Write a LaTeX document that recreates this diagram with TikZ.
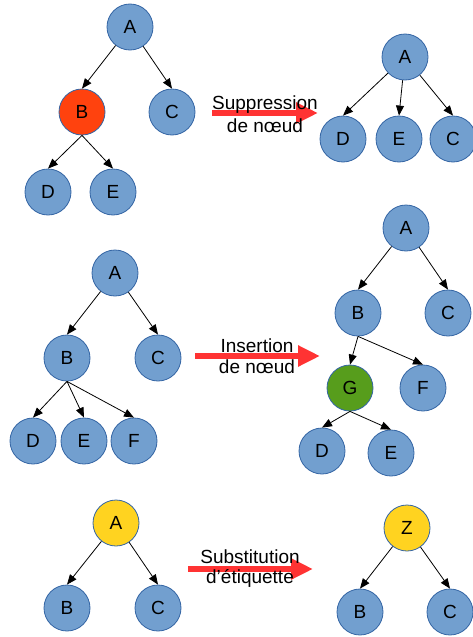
\documentclass[tikz,border=0pt]{standalone}
\usepackage{fontspec}
\setmainfont{Liberation Sans}
\usetikzlibrary{arrows.meta}
\definecolor{nodeblue}{HTML}{729FCF}
\definecolor{nodeborder}{HTML}{3465A4}
\definecolor{nodered}{HTML}{FF420E}
\definecolor{nodegreen}{HTML}{579D1C}
\definecolor{nodeyellow}{HTML}{FFD320}
\definecolor{bigred}{HTML}{FF3333}
\tikzset{
  tnode/.style={circle, draw=nodeborder, line width=0.8pt, fill=nodeblue, minimum size=46pt, inner sep=0pt, font=\fontsize{19}{22}\selectfont},
  rednode/.style={tnode, fill=nodered},
  greennode/.style={tnode, fill=nodegreen},
  yellownode/.style={tnode, fill=nodeyellow},
  edge/.style={draw=black, line width=0.8pt, -{Triangle[length=10pt,width=8pt]}},
  bigarrow/.style={draw=bigred, line width=6pt, -{Triangle[length=22pt,width=20pt]}},
  lbl/.style={anchor=base, inner sep=0pt, font=\fontsize{19}{22}\selectfont}
}
\begin{document}
\begin{tikzpicture}[x=1pt,y=-1pt]
\useasboundingbox (0,0) rectangle (473,637);
% ---------- Section 1 ----------
\node[tnode] (a1) at (130,27) {A};
\node[rednode] (b1) at (82,112) {B};
\node[tnode] (c1) at (172,112) {C};
\node[tnode] (d1) at (48,192) {D};
\node[tnode] (e1) at (113,192) {E};
\draw[edge] (a1) -- (b1.north);
\draw[edge] (a1) -- (c1.north);
\draw[edge] (b1.south) -- (d1.north);
\draw[edge] (b1.south) -- (e1.north);

\node[tnode] (a1r) at (405,57) {A};
\node[tnode] (d1r) at (343,139) {D};
\node[tnode] (e1r) at (399,139) {E};
\node[tnode] (c1r) at (453,139) {C};
\draw[edge] (a1r) -- (d1r.north);
\draw[edge] (a1r) -- (e1r.north);
\draw[edge] (a1r) -- (c1r.north);

\coordinate (s1) at (212,113);
\coordinate (t1) at (318,113);
\draw[bigarrow] (s1) -- (t1);
\node[lbl] (l1a) at (265,109) {Suppression};
\node[lbl] (l1b) at (265,132) {de nœud};

% ---------- Section 2 ----------
\node[tnode] (a2) at (115,273) {A};
\node[tnode] (b2) at (67,358) {B};
\node[tnode] (c2) at (158,358) {C};
\node[tnode] (d2) at (33,441) {D};
\node[tnode] (e2) at (84,441) {E};
\node[tnode] (f2) at (134,441) {F};
\draw[edge] (a2) -- (b2.north);
\draw[edge] (a2) -- (c2.north);
\draw[edge] (b2.south) -- (d2.north);
\draw[edge] (b2.south) -- (e2.north);
\draw[edge] (b2.south) -- (f2.north);

\node[tnode] (a2r) at (406,228) {A};
\node[tnode] (b2r) at (358,313) {B};
\node[tnode] (c2r) at (448,313) {C};
\node[greennode] (g2r) at (350,388) {G};
\node[tnode] (f2r) at (423,388) {F};
\node[tnode] (d2r) at (322,451) {D};
\node[tnode] (e2r) at (391,453) {E};
\draw[edge] (a2r) -- (b2r.north);
\draw[edge] (a2r) -- (c2r.north);
\draw[edge] (b2r.south) -- (g2r.north);
\draw[edge] (b2r.south) -- (f2r.north);
\draw[edge] (g2r.south) -- (d2r.north);
\draw[edge] (g2r.south) -- (e2r.north);

\coordinate (s2) at (195,356);
\coordinate (t2) at (320,356);
\draw[bigarrow] (s2) -- (t2);
\node[lbl] (l2a) at (257,352) {Insertion};
\node[lbl] (l2b) at (257,373) {de nœud};

% ---------- Section 3 ----------
\node[yellownode] (a3) at (116,523) {A};
\node[tnode] (b3) at (67,608) {B};
\node[tnode] (c3) at (158,608) {C};
\draw[edge] (a3) -- (b3.north);
\draw[edge] (a3) -- (c3.north);

\node[yellownode] (z3r) at (407,528) {Z};
\node[tnode] (b3r) at (360,612) {B};
\node[tnode] (c3r) at (450,612) {C};
\draw[edge] (z3r) -- (b3r.north);
\draw[edge] (z3r) -- (c3r.north);

\coordinate (s3) at (188,569);
\coordinate (t3) at (313,569);
\draw[bigarrow] (s3) -- (t3);
\node[lbl] (l3a) at (250,563) {Substitution};
\node[lbl] (l3b) at (250,583) {d'étiquette};
\end{tikzpicture}
\end{document}
